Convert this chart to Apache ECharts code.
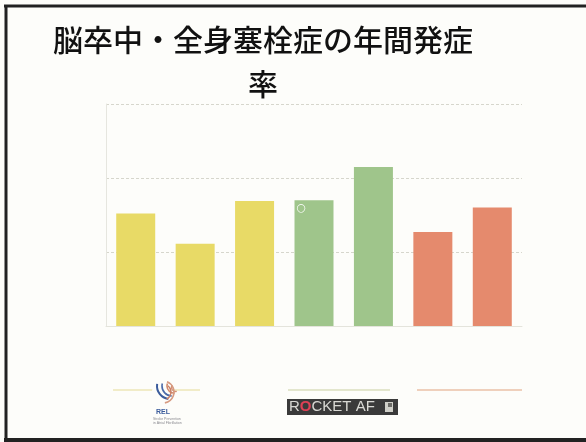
<!DOCTYPE html>
<html>
<head>
<meta charset="utf-8">
<script src="https://cdn.jsdelivr.net/npm/echarts@6/dist/echarts.min.js"></script>
<style>
  html, body { margin: 0; padding: 0; background: #fdfdfa; }
  #chart { width: 586px; height: 442px; }
</style>
</head>
<body>
<div id="chart"></div>
<script>
// Annual incidence of stroke / systemic embolism, seven study arms
const titleText = '脳卒中・全身塞栓症の年間発症\n率';
const categories = ['A', 'B', 'C', 'D', 'E', 'F', 'G'];
const rates = [1.52, 1.11, 1.69, 1.70, 2.15, 1.27, 1.60];
const barColors = ['#e8da66', '#e8da66', '#e8da66', '#9fc58b', '#9fc58b', '#e58a6d', '#e58a6d'];
const yTicks = [0, 1, 2, 3];

const chart = echarts.init(document.getElementById('chart'), null, { renderer: 'canvas' });

const seriesData = rates.map((v, i) => {
  const item = { value: v, itemStyle: { color: barColors[i] } };
  if (i === 3) {
    item.label = {
      show: true,
      position: 'insideTopLeft',
      distance: 2,
      formatter: '○',
      color: '#ffffff',
      fontFamily: 'DejaVu Sans',
      fontSize: 11,
      fontWeight: 'bold'
    };
  }
  return item;
});

chart.setOption({
  backgroundColor: '#fdfdfa',
  animation: false,
  grid: { left: 106, right: 64, top: 104, bottom: 116, containLabel: false },
  xAxis: {
    type: 'category',
    data: categories,
    axisLine: { show: true, lineStyle: { color: '#e4e4dc', width: 1 } },
    axisTick: { show: false },
    axisLabel: { show: false }
  },
  yAxis: {
    type: 'value',
    min: yTicks[0],
    max: yTicks[yTicks.length - 1],
    interval: 1,
    axisLine: { show: true, lineStyle: { color: '#e6e6df', width: 1 } },
    axisTick: { show: false },
    axisLabel: { show: false },
    splitLine: { show: true, lineStyle: { color: '#d6d6cc', width: 1, type: [3, 2] } }
  },
  series: [{
    type: 'bar',
    data: seriesData,
    barWidth: 39
  }],
  graphic: [
    // title, two centred lines
    {
      type: 'text', x: 263, y: 18, silent: true,
      style: {
        text: titleText,
        textAlign: 'center',
        fill: '#111111',
        fontFamily: '"Noto Sans CJK JP", sans-serif',
        fontWeight: 500,
        fontSize: 30,
        lineHeight: 44
      }
    },
    // slide frame
    { type: 'line', shape: { x1: 4, y1: 6, x2: 586, y2: 6 }, style: { stroke: '#222222', lineWidth: 3 }, silent: true },
    { type: 'line', shape: { x1: 6, y1: 5, x2: 6, y2: 442 }, style: { stroke: '#222222', lineWidth: 3 }, silent: true },
    { type: 'line', shape: { x1: 4, y1: 440, x2: 586, y2: 440 }, style: { stroke: '#222222', lineWidth: 4 }, silent: true },
    // group underlines
    { type: 'line', shape: { x1: 113, y1: 390, x2: 200, y2: 390 }, style: { stroke: '#e6dc96', lineWidth: 1.2 }, silent: true },
    { type: 'line', shape: { x1: 288, y1: 390, x2: 390, y2: 390 }, style: { stroke: '#c9cfa0', lineWidth: 1.2 }, silent: true },
    { type: 'line', shape: { x1: 417, y1: 390, x2: 522, y2: 390 }, style: { stroke: '#e2a47e', lineWidth: 1.2 }, silent: true },
    // REL logo: striped globe
    { type: 'circle', shape: { cx: 163, cy: 392, r: 11 }, style: { fill: '#fdfdfa', stroke: 'none' }, silent: true },
    { type: 'arc', shape: { cx: 170, cy: 386, r: 13, startAngle: 1.7, endAngle: 3.3 }, style: { stroke: '#3b5c9c', lineWidth: 2, fill: 'none' }, silent: true },
    { type: 'arc', shape: { cx: 172, cy: 386, r: 10, startAngle: 1.6, endAngle: 3.4 }, style: { stroke: '#4a6aa8', lineWidth: 1.6, fill: 'none' }, silent: true },
    { type: 'arc', shape: { cx: 174, cy: 386, r: 7, startAngle: 1.5, endAngle: 3.5 }, style: { stroke: '#d2896a', lineWidth: 1.6, fill: 'none' }, silent: true },
    { type: 'arc', shape: { cx: 176, cy: 387, r: 4.5, startAngle: 1.4, endAngle: 3.6 }, style: { stroke: '#d68f72', lineWidth: 1.4, fill: 'none' }, silent: true },
    { type: 'arc', shape: { cx: 163, cy: 392, r: 11, startAngle: -1.2, endAngle: 1.4 }, style: { stroke: '#d69a80', lineWidth: 1.6, fill: 'none' }, silent: true },
    { type: 'arc', shape: { cx: 163, cy: 392, r: 8, startAngle: -0.9, endAngle: 1.1 }, style: { stroke: '#c97f66', lineWidth: 1.4, fill: 'none' }, silent: true },
    { type: 'text', left: 156, top: 409, style: { text: 'REL', fill: '#3b5c9c', fontSize: 7, fontWeight: 'bold', fontFamily: 'Liberation Sans' }, silent: true },
    { type: 'text', left: 153, top: 417, style: { text: 'Stroke Prevention\nin Atrial Fibrillation', fill: '#8a8a90', fontSize: 3.5, lineHeight: 4, fontFamily: 'Liberation Sans' }, silent: true },
    // ROCKET AF logo
    { type: 'rect', shape: { x: 287, y: 399, width: 111, height: 16 }, style: { fill: '#3a3a3a' }, silent: true },
    {
      type: 'text', left: 289, top: 399,
      style: {
        text: '{a|R}{b|O}{a|CKET AF}',
        rich: {
          a: { fill: '#d9d9d4', fontSize: 15, fontFamily: 'Liberation Sans', lineHeight: 16 },
          b: { fill: '#e04055', fontSize: 15, fontFamily: 'Liberation Sans', fontWeight: 'bold', lineHeight: 16 }
        }
      },
      silent: true
    },
    { type: 'rect', shape: { x: 385, y: 402, width: 8, height: 10 }, style: { fill: '#cfcfc8' }, silent: true },
    { type: 'rect', shape: { x: 388, y: 403, width: 4, height: 4 }, style: { fill: '#6a6a66' }, silent: true }
  ]
});
</script>
</body>
</html>
